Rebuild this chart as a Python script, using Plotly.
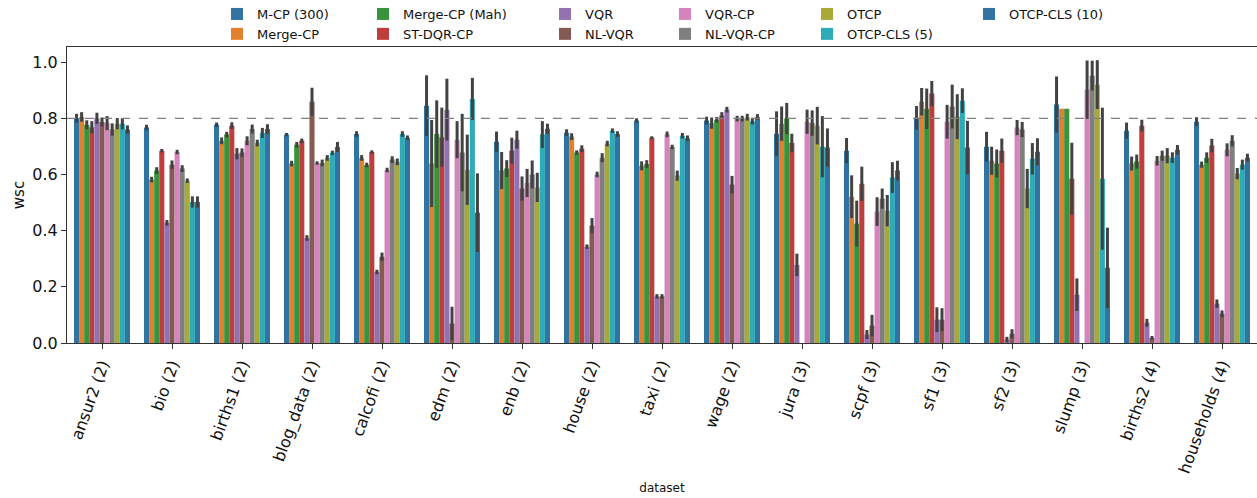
import plotly.graph_objects as go

datasets = ["ansur2 (2)", "bio (2)", "births1 (2)", "blog_data (2)", "calcofi (2)", "edm (2)",
            "enb (2)", "house (2)", "taxi (2)", "wage (2)", "jura (3)", "scpf (3)", "sf1 (3)",
            "sf2 (3)", "slump (3)", "births2 (4)", "households (4)"]

methods = ["M-CP (300)", "Merge-CP", "Merge-CP (Mah)", "ST-DQR-CP", "VQR", "NL-VQR",
           "VQR-CP", "NL-VQR-CP", "OTCP", "OTCP-CLS (5)", "OTCP-CLS (10)"]

mcp300 = [0.80, 0.767, 0.777, 0.742, 0.744, 0.845, 0.717, 0.749, 0.792, 0.792, 0.745, 0.685, 0.802, 0.699, 0.849, 0.756, 0.788]
merge_cp = [0.805, 0.582, 0.72, 0.639, 0.659, 0.639, 0.614, 0.735, 0.631, 0.783, 0.781, 0.521, 0.859, 0.649, 0.834, 0.639, 0.635]
merge_mah = [0.777, 0.614, 0.742, 0.706, 0.634, 0.744, 0.621, 0.678, 0.637, 0.795, 0.799, 0.425, 0.834, 0.639, 0.834, 0.646, 0.66]
st_dqr = [0.768, 0.685, 0.774, 0.72, 0.68, 0.733, 0.685, 0.692, 0.731, 0.81, 0.712, 0.567, 0.888, 0.685, 0.585, 0.774, 0.703]
vqr = [0.80, 0.428, 0.674, 0.374, 0.253, 0.831, 0.724, 0.343, 0.166, 0.831, 0.278, 0.03, 0.083, 0.012, 0.172, 0.072, 0.14]
nl_vqr = [0.787, 0.635, 0.678, 0.859, 0.307, 0.069, 0.55, 0.418, 0.166, 0.564, None, 0.062, 0.083, 0.033, None, 0.018, 0.104]
vqr_cp = [0.783, 0.68, 0.72, 0.641, 0.616, 0.724, 0.57, 0.6, 0.743, 0.799, 0.788, 0.468, 0.788, 0.767, 0.902, 0.649, 0.688]
nl_vqr_cp = [0.76, 0.621, 0.762, 0.641, 0.653, 0.678, 0.6, 0.66, 0.698, 0.799, 0.783, 0.514, 0.842, 0.76, 0.952, 0.667, 0.72]
otcp = [0.781, 0.578, 0.712, 0.659, 0.645, 0.617, 0.554, 0.71, 0.596, 0.804, 0.774, 0.471, 0.806, 0.55, 0.92, 0.667, 0.603]
otcp_cls5 = [0.781, 0.502, 0.748, 0.677, 0.744, 0.869, 0.742, 0.756, 0.738, 0.79, 0.699, 0.589, 0.863, 0.656, 0.585, 0.66, 0.635]
otcp_cls10 = [0.76, 0.502, 0.762, 0.698, 0.731, 0.464, 0.763, 0.744, 0.729, 0.805, 0.696, 0.614, 0.696, 0.681, 0.268, 0.688, 0.66]

mcp300_err = [0.016, 0.01, 0.008, 0.006, 0.01, 0.108, 0.036, 0.012, 0.008, 0.014, 0.08, 0.045, 0.042, 0.053, 0.1, 0.029, 0.016]
merge_cp_err = [0.017, 0.01, 0.012, 0.01, 0.01, 0.155, 0.066, 0.012, 0.016, 0.02, 0.061, 0.076, 0.049, 0.05, 0.0, 0.025, 0.011]
merge_mah_err = [0.016, 0.012, 0.01, 0.01, 0.008, 0.12, 0.03, 0.008, 0.014, 0.01, 0.056, 0.082, 0.072, 0.05, 0.0, 0.025, 0.019]
st_dqr_err = [0.022, 0.006, 0.012, 0.008, 0.006, 0.105, 0.046, 0.012, 0.005, 0.012, 0.033, 0.061, 0.045, 0.043, 0.128, 0.021, 0.024]
vqr_err = [0.02, 0.01, 0.02, 0.01, 0.008, 0.11, 0.032, 0.008, 0.008, 0.01, 0.04, 0.016, 0.044, 0.01, 0.058, 0.014, 0.015]
nl_vqr_err = [0.016, 0.015, 0.015, 0.05, 0.015, 0.06, 0.043, 0.027, 0.008, 0.031, None, 0.038, 0.041, 0.016, None, 0.007, 0.012]
vqr_cp_err = [0.025, 0.008, 0.016, 0.006, 0.008, 0.066, 0.05, 0.01, 0.01, 0.01, 0.043, 0.051, 0.06, 0.027, 0.104, 0.017, 0.023]
nl_vqr_cp_err = [0.022, 0.012, 0.016, 0.012, 0.012, 0.138, 0.05, 0.016, 0.008, 0.01, 0.045, 0.036, 0.078, 0.027, 0.053, 0.018, 0.02]
otcp_err = [0.02, 0.008, 0.012, 0.01, 0.012, 0.125, 0.052, 0.01, 0.018, 0.012, 0.067, 0.056, 0.08, 0.07, 0.087, 0.027, 0.02]
otcp_cls5_err = [0.02, 0.02, 0.018, 0.008, 0.01, 0.075, 0.048, 0.008, 0.01, 0.012, 0.109, 0.055, 0.044, 0.056, 0.253, 0.019, 0.018]
otcp_cls10_err = [0.015, 0.02, 0.017, 0.018, 0.008, 0.14, 0.018, 0.01, 0.01, 0.01, 0.068, 0.035, 0.095, 0.048, 0.143, 0.017, 0.014]

values = [mcp300, merge_cp, merge_mah, st_dqr, vqr, nl_vqr, vqr_cp, nl_vqr_cp, otcp, otcp_cls5, otcp_cls10]
errors = [mcp300_err, merge_cp_err, merge_mah_err, st_dqr_err, vqr_err, nl_vqr_err, vqr_cp_err,
          nl_vqr_cp_err, otcp_err, otcp_cls5_err, otcp_cls10_err]

colors = ["#3274a1", "#e1812c", "#3a923a", "#c03d3e", "#9372b2", "#845b53",
          "#d684bd", "#7f7f7f", "#a9aa35", "#2eabb8", "#3274a1"]

# legend columns (matplotlib-style column-major layout)
legend_ids = ["legend", "legend", "legend2", "legend2", "legend3", "legend3",
              "legend4", "legend4", "legend5", "legend5", "legend6"]
legend_x_px = [217, 363, 545, 665, 807, 969]

W, H = 1257, 498
ML, MR, MT, MB = 67, 0, 47, 155
plot_w = W - ML - MR
plot_h = H - MT - MB

fig = go.Figure()
for name, vals, errs, col, lg in zip(methods, values, errors, colors, legend_ids):
    fig.add_trace(go.Bar(
        x=datasets, y=vals, name=name, marker=dict(color=col, line=dict(width=0)),
        error_y=dict(type="data", array=[e if e is not None else 0 for e in errs],
                     color="#424242", thickness=3, width=0),
        legend=lg,
    ))

legend_common = dict(orientation="v", xanchor="left", yanchor="top",
                     bgcolor="rgba(0,0,0,0)", font=dict(family="DejaVu Sans", size=13, color="#111"),
                     tracegroupgap=0, itemwidth=30)
y_leg = 1 + (MT + 1) / plot_h
layout_legends = {}
for i, px in enumerate(legend_x_px):
    key = "legend" if i == 0 else f"legend{i+1}"
    layout_legends[key] = dict(legend_common, x=(px - ML) / plot_w, y=y_leg)

fig.update_layout(
    width=W, height=H,
    margin=dict(l=ML, r=MR, t=MT, b=MB, autoexpand=False),
    paper_bgcolor="white", plot_bgcolor="white",
    barmode="group", bargap=0.2, bargroupgap=0,
    font=dict(family="DejaVu Sans", color="#222"),
    showlegend=True,
    **layout_legends,
)

fig.update_xaxes(
    type="category", range=[-0.5, len(datasets) - 0.5],
    tickangle=-70, tickfont=dict(size=16, color="#111"),
    ticks="outside", ticklen=5, tickcolor="#333",
    showline=True, linecolor="#333", linewidth=1, mirror=True,
    showgrid=False, automargin=False,
    title=dict(text="dataset", font=dict(size=12, color="#111"), standoff=8),
)
fig.update_yaxes(
    range=[0, 1.054], tickvals=[0, 0.2, 0.4, 0.6, 0.8, 1.0], tickformat=".1f",
    tickfont=dict(size=16, color="#111"),
    ticks="outside", ticklen=5, tickcolor="#333",
    showline=True, linecolor="#333", linewidth=1, mirror=True,
    showgrid=False, zeroline=False, automargin=False,
    title=dict(text="wsc", font=dict(size=15, color="#111"), standoff=4),
)

fig.add_hline(y=0.8, line=dict(color="#808080", width=1.3, dash="dash"), layer="above")

fig.write_html("out.html")
